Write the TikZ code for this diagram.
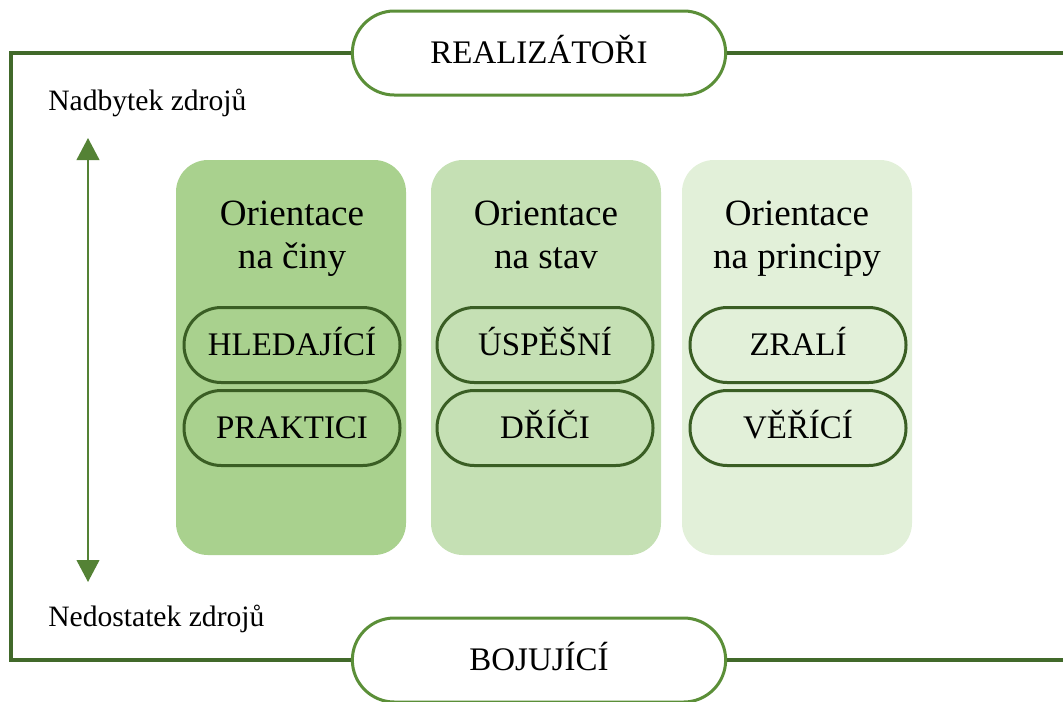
\documentclass[tikz,border=0pt]{standalone}
\usepackage{fontspec}
\setmainfont{Liberation Serif}
\usetikzlibrary{arrows.meta}
\definecolor{framec}{HTML}{41692A}
\definecolor{pillc}{HTML}{5B8F38}
\definecolor{innerc}{HTML}{3A5E24}
\definecolor{arrowc}{HTML}{548235}
\definecolor{colA}{HTML}{A9D18E}
\definecolor{colB}{HTML}{C5E0B4}
\definecolor{colC}{HTML}{E2F0D9}
\begin{document}
\begin{tikzpicture}[x=0.75pt,y=-0.75pt,
  outerpill/.style={draw=pillc, line width=2.25pt, fill=white, minimum width=280pt, minimum height=63pt,
    rounded corners=31.5pt, inner sep=0pt, text height=16.35pt, text depth=0pt,
    font=\fontsize{24.7}{28}\selectfont},
  framepath/.style={draw=framec, line width=3pt},
  colbox/.style={minimum width=172.5pt, minimum height=296.25pt, rounded corners=24pt, inner sep=0pt},
  innerpill/.style={draw=innerc, line width=2.25pt, minimum width=162pt, minimum height=56.25pt,
    rounded corners=28pt, inner sep=0pt, text height=16.35pt, text depth=0pt,
    font=\fontsize{24.7}{28}\selectfont},
  titleline/.style={anchor=base, inner sep=0pt, font=\fontsize{27.8}{32}\selectfont},
  sidelabel/.style={anchor=base west, inner sep=0pt, font=\fontsize{22.2}{25}\selectfont},
  vArrow/.style={draw=arrowc, line width=1.5pt,
    {Triangle[width=17pt,length=16.5pt]}-{Triangle[width=17pt,length=16.5pt]}}
]
\useasboundingbox (0,0) rectangle (1063,701);
\clip (0,0) rectangle (1063,701);

% outer pills
\node[outerpill] (top) at (539,53) {REALIZÁTOŘI};
\node[outerpill] (bot) at (539,660) {BOJUJÍCÍ};

% frame
\coordinate (ftl) at (11,53);
\coordinate (ftr) at (1066,53);
\draw[framepath, line join=miter] (top.west) -- (ftl) |- (bot.west);
\draw[framepath] (top.east) -- (ftr);
\draw[framepath] (bot.east) -- (bot.east -| ftr);

% side labels and arrow
\node[sidelabel] (nad) at (48,110) {Nadbytek zdrojů};
\node[sidelabel] (ned) at (48,626) {Nedostatek zdrojů};
\coordinate (atop) at (88,138);
\coordinate (abot) at (88,582);
\draw[vArrow] (atop) -- (abot);

% columns
\node[colbox, fill=colA] (c1) at (291,357.5) {};
\node[colbox, fill=colB] (c2) at (546,357.5) {};
\node[colbox, fill=colC] (c3) at (797,357.5) {};

% titles
\node[titleline] (t1a) at (292,225) {Orientace};
\node[titleline] (t1b) at (292,268) {na činy};
\node[titleline] (t2a) at (546,225) {Orientace};
\node[titleline] (t2b) at (546,268) {na stav};
\node[titleline] (t3a) at (797,225) {Orientace};
\node[titleline] (t3b) at (797,268) {na principy};

% inner pills
\node[innerpill] (p11) at (292,345) {HLEDAJÍCÍ};
\node[innerpill] (p12) at (292,428) {PRAKTICI};
\node[innerpill] (p21) at (545,345) {ÚSPĚŠNÍ};
\node[innerpill] (p22) at (545,428) {DŘÍČI};
\node[innerpill] (p31) at (798,345) {ZRALÍ};
\node[innerpill] (p32) at (798,428) {VĚŘÍCÍ};
\end{tikzpicture}
\end{document}
